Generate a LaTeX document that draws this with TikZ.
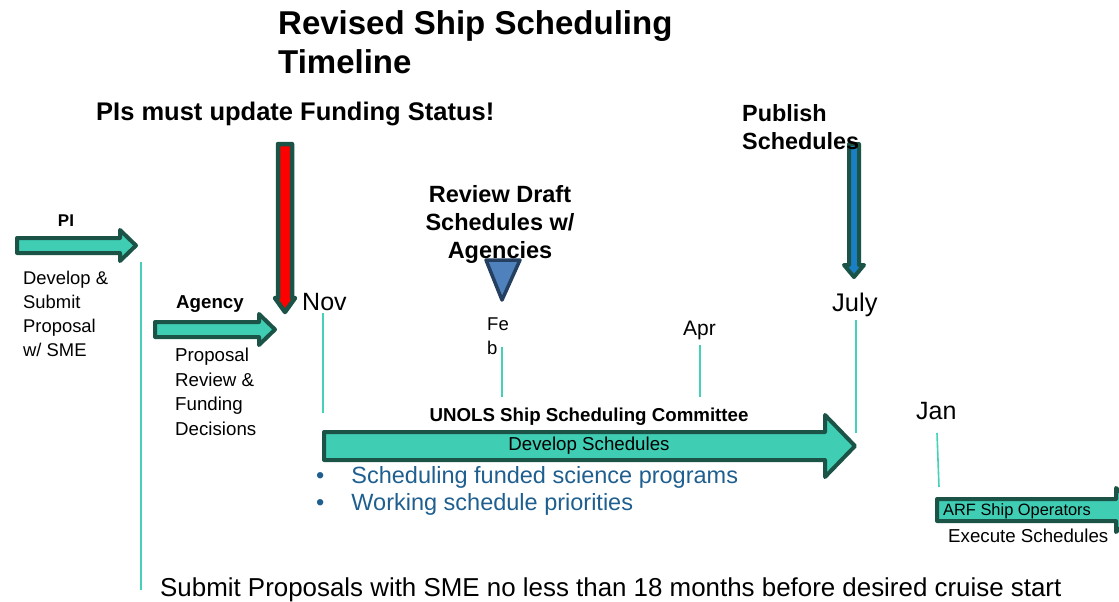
\documentclass[tikz,border=0pt]{standalone}
\usepackage{fontspec}
\setmainfont{Liberation Sans}
\usepackage{tikz}

\definecolor{arrowfill}{HTML}{3FCDB4}
\definecolor{arrowedge}{HTML}{1B5446}
\definecolor{tickcol}{HTML}{44D1B8}
\definecolor{bulletblue}{HTML}{1F5F8F}
\definecolor{trifill}{HTML}{4F81BD}
\definecolor{triedge}{HTML}{243F60}
\definecolor{pubblue}{HTML}{1A7FC4}

\newcommand{\fs}[2]{\fontsize{#1}{#2}\selectfont}

\begin{document}
\begin{tikzpicture}[x=1pt, y=-1pt,
    blockarrow/.style={draw=arrowedge, fill=arrowfill, line width=4pt, line join=round},
    downarrow/.style={draw=arrowedge, line width=4.5pt, line join=round},
    tick/.style={draw=tickcol, line width=1.6pt},
    lbl/.style={inner sep=0pt, align=left},
    month/.style={inner sep=0pt, font=\fs{25}{28}}]
    \useasboundingbox (0,0) rectangle (1119,602);
    \clip (0,0) rectangle (1119,602);

    % Title and headings
    \node[lbl, anchor=north west, font=\bfseries\fs{33}{39}] (title) at (278,10) {Revised Ship Scheduling\\Timeline};
    \node[lbl, anchor=base west, font=\bfseries\fs{25.5}{28}] (funding) at (96,121) {PIs must update Funding Status!};

    % PI step
    \draw[blockarrow] (17,238) -- (120,238) -- (120,230) -- (136,245.5) -- (120,261) -- (120,253) -- (17,253) -- cycle;
    \node[lbl, anchor=base, font=\bfseries\fs{17}{20}] (pi) at (66,226) {PI};
    \node[lbl, anchor=north west, font=\fs{18.4}{24}] (develop) at (23,271) {Develop \&\\Submit\\Proposal\\w/ SME};

    % Agency step
    \draw[blockarrow] (155,322) -- (259,322) -- (259,314) -- (275,329.5) -- (259,345) -- (259,337) -- (155,337) -- cycle;
    \node[lbl, anchor=base west, font=\bfseries\fs{18.7}{20}] (agency) at (176,308) {Agency};
    \node[lbl, anchor=north west, font=\fs{18.7}{24.5}] (review) at (175,348) {Proposal\\Review \&\\Funding\\Decisions};

    % Funding status arrow (red)
    \draw[downarrow, fill=red] (278,144) -- (292,144) -- (292,298) -- (295,298) -- (285,312) -- (275,298) -- (278,298) -- cycle;

    % Publish arrow (blue)
    \draw[downarrow, line width=4pt, fill=pubblue] (849,144) -- (859,144) -- (859,265) -- (864,265) -- (854,277) -- (844,265) -- (849,265) -- cycle;
    \node[lbl, anchor=north west, font=\bfseries\fs{23.4}{28}] (publish) at (742,104) {Publish\\Schedules};

    % Review draft with agencies
    \draw[draw=triedge, fill=trifill, line width=3.5pt, line join=round] (486,260) -- (520,260) -- (502,300) -- cycle;
    \node[lbl, anchor=north, align=center, font=\bfseries\fs{23.5}{28}] (draft) at (500,185) {Review Draft\\Schedules w/\\Agencies};

    % Months
    \node[month, anchor=base west] (nov) at (302,310) {Nov};
    \node[lbl, anchor=north west, font=\fs{18.5}{24}] (feb) at (487,318) {Fe\\b};
    \node[lbl, anchor=base west, font=\fs{21}{22}] (apr) at (683,335) {Apr};
    \node[month, font=\fs{25.5}{28}, anchor=base west] (july) at (832,311) {July};
    \node[month, anchor=base west] (jan) at (916,419) {Jan};

    % Ticks
    \coordinate (pibot) at (141,590);
    \coordinate (pitop) at (141,262);
    \coordinate (novbot) at (323,413);
    \coordinate (febbot) at (502,397);
    \coordinate (aprbot) at (700,397);
    \coordinate (julybot) at (856,433);
    \coordinate (janbot) at (939,487);
    \draw[tick] (pitop) -- (pibot);
    \draw[tick] (nov.south -| novbot) ++(0,3) -- (novbot);
    \draw[tick] (502,347) -- (febbot);
    \draw[tick] (apr.south -| aprbot) ++(0,5) -- (aprbot);
    \draw[tick] (july.south -| julybot) ++(0,4) -- (julybot);
    \draw[tick] (937,433) -- (janbot);

    % UNOLS committee
    \node[lbl, anchor=base, font=\bfseries\fs{18.7}{20}] (unols) at (589,421) {UNOLS Ship Scheduling Committee};
    \draw[blockarrow] (324,432) -- (825,432) -- (825,415) -- (855,446) -- (825,477) -- (825,460) -- (324,460) -- cycle;
    \node[lbl, font=\fs{18.7}{20}] (devsched) at (589,446) {Develop Schedules};
    \node[lbl, anchor=base west, text=bulletblue, font=\fs{23.5}{27}] (bul1) at (316,483) {•\hspace{27pt}Scheduling funded science programs};
    \node[lbl, anchor=base west, text=bulletblue, font=\fs{23.5}{27}] (bul2) at (316,510) {•\hspace{27pt}Working schedule priorities};

    % ARF ship operators
    \draw[blockarrow] (937,499) -- (1116,499) -- (1116,488) -- (1140,510) -- (1116,532) -- (1116,521) -- (937,521) -- cycle;
    \node[lbl, anchor=base west, font=\fs{16.4}{18}] (arf) at (943,515) {ARF Ship Operators};
    \node[lbl, anchor=base west, font=\fs{18.7}{19}] (execute) at (948,542) {Execute Schedules};

    % Bottom note
    \node[lbl, anchor=base west, font=\fs{25.9}{28}] (note) at (160,596) {Submit Proposals with SME no less than 18 months before desired cruise start};
\end{tikzpicture}
\end{document}
